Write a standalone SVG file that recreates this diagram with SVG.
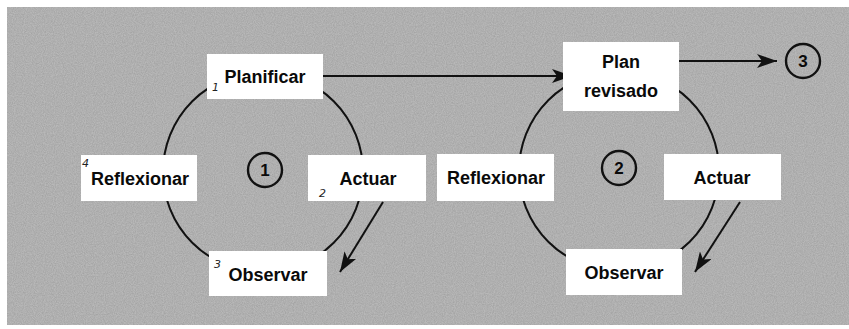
<svg xmlns="http://www.w3.org/2000/svg" width="849" height="329" viewBox="0 0 849 329">
  <defs>
    <style>
      .box { fill: #ffffff; stroke: none; }
      .lbl { font-family: "Liberation Sans", Arial, sans-serif; font-weight: bold; font-size: 18px; fill: #0a0a0a; text-anchor: middle; }
      .hand { font-family: "DejaVu Sans", sans-serif; font-style: italic; font-size: 11px; fill: #222222; }
      .num { font-family: "Liberation Sans", Arial, sans-serif; font-weight: bold; font-size: 17px; fill: #0a0a0a; text-anchor: middle; }
      .cyc { fill: none; stroke: #111111; stroke-width: 2; }
      .ring { fill: none; stroke: #111111; stroke-width: 2.4; }
      .conn { fill: none; stroke: #111111; stroke-width: 2; }
    </style>
    <marker id="arr" markerUnits="userSpaceOnUse" markerWidth="22" markerHeight="14" refX="20" refY="7" orient="auto">
      <path d="M0,0 L20,7 L0,14 L5,7 Z" fill="#111111"/>
    </marker>
    <filter id="grain" x="0" y="0" width="100%" height="100%">
      <feTurbulence type="fractalNoise" baseFrequency="0.9" numOctaves="2" seed="3" result="n"/>
      <feColorMatrix type="matrix" values="0 0 0 0 0  0 0 0 0 0  0 0 0 0 0  0.6 0 0 0 -0.15"/>
    </filter>
  </defs>

  <rect x="0" y="0" width="849" height="329" fill="#ffffff"/>
  <rect x="7" y="7" width="842" height="318" fill="#b8b8b8"/>
  <rect x="7" y="7" width="842" height="318" filter="url(#grain)" opacity="0.3"/>

  <g id="cycles">
    <circle class="cyc" cx="263" cy="172" r="100"/>
    <circle class="cyc" cx="619" cy="171" r="100"/>
  </g>

  <g id="connectors">
    <line class="conn" x1="323" y1="76" x2="572" y2="76" marker-end="url(#arr)"/>
    <line class="conn" x1="655" y1="61" x2="777" y2="61" marker-end="url(#arr)"/>
    <line class="conn" x1="383" y1="202" x2="340" y2="272" marker-end="url(#arr)"/>
    <line class="conn" x1="740" y1="202" x2="695" y2="272" marker-end="url(#arr)"/>
  </g>

  <g id="planificar">
    <rect class="box" x="207" y="54" width="116" height="45"/>
    <text class="lbl" x="265" y="83">Planificar</text>
    <text class="hand" x="212" y="91">1</text>
  </g>

  <g id="reflexionar1">
    <rect class="box" x="81" y="155" width="116" height="46"/>
    <text class="lbl" x="140" y="185">Reflexionar</text>
    <text class="hand" x="82" y="167">4</text>
  </g>

  <g id="actuar1">
    <rect class="box" x="308" y="155" width="118" height="46"/>
    <text class="lbl" x="368" y="185">Actuar</text>
    <text class="hand" x="319" y="197">2</text>
  </g>

  <g id="observar1">
    <rect class="box" x="209" y="251" width="118" height="45"/>
    <text class="lbl" x="268" y="281">Observar</text>
    <text class="hand" x="214" y="268">3</text>
  </g>

  <g id="ciclo1">
    <circle class="ring" cx="265" cy="170" r="17"/>
    <text class="num" x="265" y="176">1</text>
  </g>

  <g id="planrevisado">
    <rect class="box" x="563" y="42" width="116" height="69"/>
    <text class="lbl" x="621" y="68">Plan</text>
    <text class="lbl" x="621" y="97">revisado</text>
  </g>

  <g id="reflexionar2">
    <rect class="box" x="437" y="154" width="117" height="47"/>
    <text class="lbl" x="496" y="184">Reflexionar</text>
  </g>

  <g id="actuar2">
    <rect class="box" x="664" y="154" width="117" height="46"/>
    <text class="lbl" x="722" y="184">Actuar</text>
  </g>

  <g id="observar2">
    <rect class="box" x="566" y="249" width="116" height="46"/>
    <text class="lbl" x="624" y="279">Observar</text>
  </g>

  <g id="ciclo2">
    <circle class="ring" cx="619" cy="168" r="17"/>
    <text class="num" x="619" y="174">2</text>
  </g>

  <g id="ciclo3">
    <circle class="ring" cx="803" cy="61" r="17"/>
    <text class="num" x="803" y="67">3</text>
  </g>
</svg>
